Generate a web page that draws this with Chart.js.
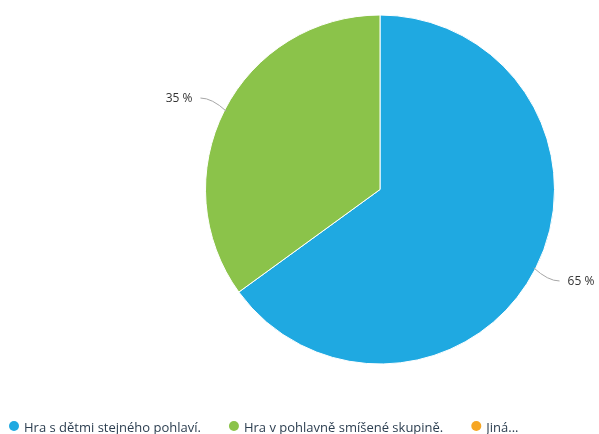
<!DOCTYPE html>
<html>
<head>
<meta charset="utf-8">
<script src="https://cdn.jsdelivr.net/npm/chart.js@4/dist/chart.umd.min.js"></script>
<style>
  html, body { margin: 0; padding: 0; overflow: hidden; background: #fff; }
  #wrap { width: 599px; height: 434px; position: relative; }
</style>
</head>
<body>
<div id="wrap"><canvas id="answers-pie"></canvas></div>
<script>
let answerLabels = ['Hra s dětmi stejného pohlaví.', 'Hra v pohlavně smíšené skupině.', 'Jiná...'];
let answerValues = [65, 35, 0];
let answerColors = ['#1fa9e1', '#8bc34a', '#f6a623'];

// percent labels outside the slices, joined by a thin leader line
let leaderLabels = {
    id: 'leaderLabels',
    afterDatasetsDraw(chart) {
        let ctx = chart.ctx;
        let meta = chart.getDatasetMeta(0);
        let total = answerValues.reduce((a, b) => a + b, 0);
        ctx.save();
        meta.data.forEach((arc, i) => {
            let v = answerValues[i];
            if (!v) return;
            let mid = (arc.startAngle + arc.endAngle) / 2;
            let cos = Math.cos(mid), sin = Math.sin(mid);
            let r = arc.outerRadius;
            let x0 = arc.x + cos * (r - 2), y0 = arc.y + sin * (r - 2);
            let x1 = arc.x + cos * (r + 27), y1 = arc.y + sin * (r + 27);
            let cx = arc.x + cos * (r + 14);
            let dir = cos >= 0 ? 1 : -1;
            ctx.strokeStyle = '#a6a6a6';
            ctx.lineWidth = 1;
            ctx.beginPath();
            ctx.moveTo(x0, y0);
            ctx.quadraticCurveTo(cx, y1, x1, y1);
            ctx.stroke();
            ctx.fillStyle = '#333333';
            ctx.font = '12px "Open Sans"';
            ctx.textBaseline = 'middle';
            ctx.textAlign = dir > 0 ? 'left' : 'right';
            ctx.fillText(Math.round(v / total * 100) + ' %', x1 + dir * 8, y1 + 1);
        });
        ctx.restore();
    }
};

// legend row along the bottom edge, left aligned under the whole canvas
let bottomLegend = {
    id: 'bottomLegend',
    afterDraw(chart) {
        let ctx = chart.ctx;
        let y = 432;
        let x = 9;
        ctx.save();
        ctx.font = '13px "Open Sans"';
        ctx.textBaseline = 'alphabetic';
        ctx.textAlign = 'left';
        answerLabels.forEach((label, i) => {
            ctx.fillStyle = answerColors[i];
            ctx.beginPath();
            ctx.arc(x + 5, y - 6, 5, 0, Math.PI * 2);
            ctx.fill();
            ctx.fillStyle = '#2c3e50';
            ctx.fillText(label, x + 15, y);
            x += 15 + ctx.measureText(label).width + 28;
        });
        ctx.restore();
    }
};

let pieConfig = {
    type: 'pie',
    data: {
        labels: answerLabels,
        datasets: [{
            data: answerValues,
            backgroundColor: answerColors,
            borderColor: '#ffffff',
            borderWidth: 1
        }]
    },
    options: {
        responsive: true,
        maintainAspectRatio: false,
        animation: false,
        layout: {
            padding: { left: 205, right: 44, top: 14, bottom: 69 }
        },
        plugins: {
            legend: { display: false },
            tooltip: { enabled: false }
        }
    },
    plugins: [leaderLabels, bottomLegend]
};

let answersChart = new Chart(
    document.getElementById('answers-pie'),
    pieConfig
);
</script>
</body>
</html>
